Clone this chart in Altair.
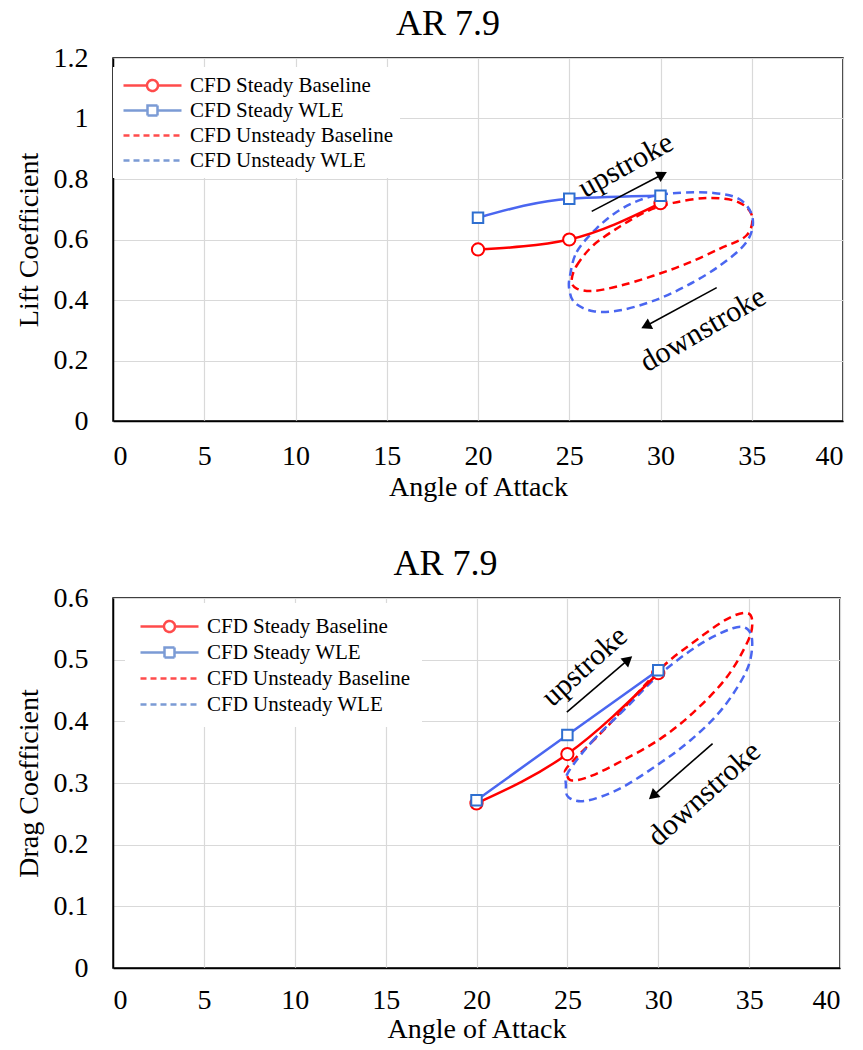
import altair as alt
import pandas as pd

FONT = "Liberation Serif"

SERIES = ["CFD Steady Baseline", "CFD Steady WLE", "CFD Unsteady Baseline", "CFD Unsteady WLE"]
LEGEND_COLORS = ["#FF0000", "#4472C4", "#FF0000", "#4472C4"]
LEGEND_DASHES = [[1, 0], [1, 0], [6, 4], [6, 4]]
LEGEND_SYMBOLS = [
    "M-2.9,0H-0.55M0.55,0H2.9M0.55,0A0.55,0.55,0,1,1,-0.55,0A0.55,0.55,0,1,1,0.55,0Z",
    "M-2.9,0H-0.5M0.5,0H2.9M-0.5,-0.5H0.5V0.5H-0.5Z",
    "M-2.9,0H2.9",
    "M-2.9,0H2.9",
]

AOA_TICKS = [0, 5, 10, 15, 20, 25, 30, 35, 40]
LIFT_TICKS = [0, 0.2, 0.4, 0.6, 0.8, 1, 1.2]
DRAG_TICKS = [0, 0.1, 0.2, 0.3, 0.4, 0.5, 0.6]

# steady CFD
steady_aoa = [20, 25, 30]
lift_steady_base = [0.567, 0.600, 0.720]
lift_steady_wle = [0.672, 0.735, 0.745]
drag_steady_base = [0.267, 0.347, 0.478]
drag_steady_wle = [0.272, 0.378, 0.483]

# unsteady CFD hysteresis loops (read along the loop)
lift_unst_base_aoa = [25.13, 25.41, 26.32, 27.78, 29.24, 30.7, 32.53, 34.17, 35.0, 34.72, 33.26, 31.43, 29.6, 27.78, 26.32, 25.41]
lift_unst_base_cl = [0.464, 0.514, 0.581, 0.643, 0.693, 0.721, 0.737, 0.726, 0.681, 0.614, 0.57, 0.52, 0.48, 0.447, 0.43, 0.438]
lift_unst_wle_aoa = [25.04, 25.41, 26.5, 27.78, 29.24, 30.89, 32.9, 34.36, 35.05, 34.72, 33.26, 31.43, 29.6, 27.78, 26.32, 25.3, 25.0]
lift_unst_wle_cl = [0.48, 0.559, 0.637, 0.698, 0.738, 0.754, 0.754, 0.732, 0.67, 0.592, 0.514, 0.447, 0.397, 0.366, 0.363, 0.391, 0.436]

drag_unst_base_aoa = [25.06, 27.27, 30.04, 31.88, 33.73, 34.84, 35.17, 34.93, 33.73, 31.88, 30.13, 28.2, 26.35, 25.25, 24.97]
drag_unst_base_cd = [0.328, 0.394, 0.483, 0.527, 0.565, 0.576, 0.562, 0.53, 0.47, 0.413, 0.372, 0.339, 0.312, 0.304, 0.315]
drag_unst_wle_aoa = [25.06, 26.35, 28.2, 30.04, 32.25, 34.1, 34.93, 35.17, 34.84, 33.54, 31.88, 30.04, 27.83, 25.99, 25.06, 24.92]
drag_unst_wle_cd = [0.318, 0.367, 0.421, 0.475, 0.524, 0.551, 0.549, 0.524, 0.481, 0.421, 0.372, 0.331, 0.29, 0.271, 0.277, 0.296]

# annotations: arrows (start -> head) and labels
lift_arrow_x = [26.23, 33.08]
lift_arrow_y = [0.693, 0.441]
lift_arrow_x2 = [30.1, 29.2]
lift_arrow_y2 = [0.815, 0.314]
lift_arrow_angle = [62, 243]
lift_text = ["upstroke", "downstroke"]
lift_text_x = [28.1, 32.33]
lift_text_y = [0.845, 0.302]
lift_text_angle = [331, 330]

drag_arrow_x = [24.97, 32.99]
drag_arrow_y = [0.415, 0.364]
drag_arrow_x2 = [28.35, 29.7]
drag_arrow_y2 = [0.5, 0.279]
drag_arrow_angle = [50, 229]
drag_text = ["upstroke", "downstroke"]
drag_text_x = [25.95, 32.53]
drag_text_y = [0.489, 0.282]
drag_text_angle = [318, 318]

RED = "#FF0000"
BLUE = "#4A66F0"
BLUE_MARK = "#2F6FD0"


def panel(ytitle, yticks, sb, sw, ub_x, ub_y, uw_x, uw_y,
          ax, ay, ax2, ay2, aang, txt, tx, ty, tang,
          w, h, leg_x, leg_y, leg_pad, row_pad, xlabpad, xtitpad, ytitpad, tdx):
    ydom = [yticks[0], yticks[-1]]
    xs = alt.Scale(domain=[0, 40], nice=False, zero=False)
    ys = alt.Scale(domain=ydom, nice=False, zero=False)
    xax = alt.Axis(values=AOA_TICKS, title="Angle of Attack", labelPadding=xlabpad, titlePadding=xtitpad)
    yax = alt.Axis(values=yticks, format="~g", title=ytitle, labelPadding=25, titlePadding=ytitpad)

    # legend layer (hidden marks, legend only)
    leg_df = pd.DataFrame({"series": SERIES, "x": [-100] * 4, "y": [ydom[0]] * 4})
    lg = alt.Legend(title=None, orient="none", legendX=leg_x, legendY=leg_y, fillColor="white",
                    padding=leg_pad, labelFont=FONT, labelFontSize=21, labelColor="black",
                    symbolSize=400, symbolStrokeWidth=2.5, symbolOffset=21, labelOffset=26,
                    rowPadding=row_pad, labelLimit=400)
    legend_layer = alt.Chart(leg_df).mark_point(filled=False, fill="white", size=400, strokeWidth=2.5, clip=True).encode(
        x=alt.X("x:Q", scale=xs, axis=xax),
        y=alt.Y("y:Q", scale=ys, axis=yax),
        color=alt.Color("series:N", scale=alt.Scale(domain=SERIES, range=LEGEND_COLORS), legend=lg, sort=SERIES),
        shape=alt.Shape("series:N", scale=alt.Scale(domain=SERIES, range=LEGEND_SYMBOLS), legend=lg, sort=SERIES),
        strokeDash=alt.StrokeDash("series:N", scale=alt.Scale(domain=SERIES, range=LEGEND_DASHES), legend=lg, sort=SERIES),
    )

    layers = [legend_layer]

    # unsteady loops
    for lx, ly, col in [(ub_x, ub_y, RED), (uw_x, uw_y, BLUE)]:
        df = pd.DataFrame({"aoa": lx, "c": ly, "i": list(range(len(lx)))})
        layers.append(alt.Chart(df).mark_line(color=col, strokeWidth=2.5, strokeDash=[8, 5],
                                              interpolate="cardinal-closed").encode(
            x=alt.X("aoa:Q", scale=xs), y=alt.Y("c:Q", scale=ys), order="i:Q"))

    # steady curves
    for vals, col, mcol, shp, sz in [(sb, RED, RED, "circle", 150), (sw, BLUE, BLUE_MARK, "square", 110)]:
        df = pd.DataFrame({"aoa": steady_aoa, "c": vals})
        base = alt.Chart(df).encode(x=alt.X("aoa:Q", scale=xs), y=alt.Y("c:Q", scale=ys))
        layers.append(base.mark_line(color=col, strokeWidth=2.5, interpolate="monotone"))
        layers.append(base.mark_point(shape=shp, filled=False, fill="white", stroke=mcol,
                                      strokeWidth=2, size=sz, opacity=1))

    # arrows
    adf = pd.DataFrame({"x": ax, "y": ay, "x2": ax2, "y2": ay2, "ang": aang})
    layers.append(alt.Chart(adf).mark_rule(color="black", strokeWidth=1.6).encode(
        x=alt.X("x:Q", scale=xs), y=alt.Y("y:Q", scale=ys), x2="x2:Q", y2="y2:Q"))
    layers.append(alt.Chart(adf).mark_point(shape="triangle-up", filled=True, color="black",
                                            size=140, opacity=1).encode(
        x=alt.X("x2:Q", scale=xs), y=alt.Y("y2:Q", scale=ys),
        angle=alt.Angle("ang:Q", scale=None)))

    # labels
    tdf = pd.DataFrame({"t": txt, "x": tx, "y": ty, "ang": tang})
    layers.append(alt.Chart(tdf).mark_text(font=FONT, fontSize=30, color="black",
                                           align="center", baseline="middle").encode(
        x=alt.X("x:Q", scale=xs), y=alt.Y("y:Q", scale=ys), text="t:N",
        angle=alt.Angle("ang:Q", scale=None)))

    return alt.layer(*layers).properties(
        width=w, height=h,
        title=alt.TitleParams("AR 7.9", font=FONT, fontSize=36, fontWeight="normal",
                              color="black", anchor="middle", dx=tdx, offset=1))


top = panel("Lift Coefficient", LIFT_TICKS, lift_steady_base, lift_steady_wle,
            lift_unst_base_aoa, lift_unst_base_cl, lift_unst_wle_aoa, lift_unst_wle_cl,
            lift_arrow_x, lift_arrow_y, lift_arrow_x2, lift_arrow_y2, lift_arrow_angle,
            lift_text, lift_text_x, lift_text_y, lift_text_angle,
            730, 363, 0, 9, 7, 3, 21, 3, 10, -30)
bottom = panel("Drag Coefficient", DRAG_TICKS, drag_steady_base, drag_steady_wle,
               drag_unst_base_aoa, drag_unst_base_cd, drag_unst_wle_aoa, drag_unst_wle_cd,
               drag_arrow_x, drag_arrow_y, drag_arrow_x2, drag_arrow_y2, drag_arrow_angle,
               drag_text, drag_text_x, drag_text_y, drag_text_angle,
               727, 370, 12, 5, 12, 4, 18, 1, 10, -31)

chart = alt.vconcat(top, bottom, spacing=43).resolve_scale(
    color="independent", shape="independent", strokeDash="independent"
).resolve_legend(
    color="independent", shape="independent", strokeDash="independent"
).properties(
    background="white", padding={"left": 14, "top": 5, "right": 5, "bottom": 0}
).configure_view(
    stroke="black", strokeWidth=1.5
).configure_axis(
    grid=True, gridColor="#D9D9D9", gridWidth=1.2, ticks=False,
    domain=True, domainColor="black", domainWidth=1.5,
    labelFont=FONT, labelFontSize=28, labelColor="black",
    titleFont=FONT, titleFontSize=28, titleFontWeight="normal", titleColor="black",
)

chart.save("out.html", embed_options={"renderer": "svg", "actions": False})
